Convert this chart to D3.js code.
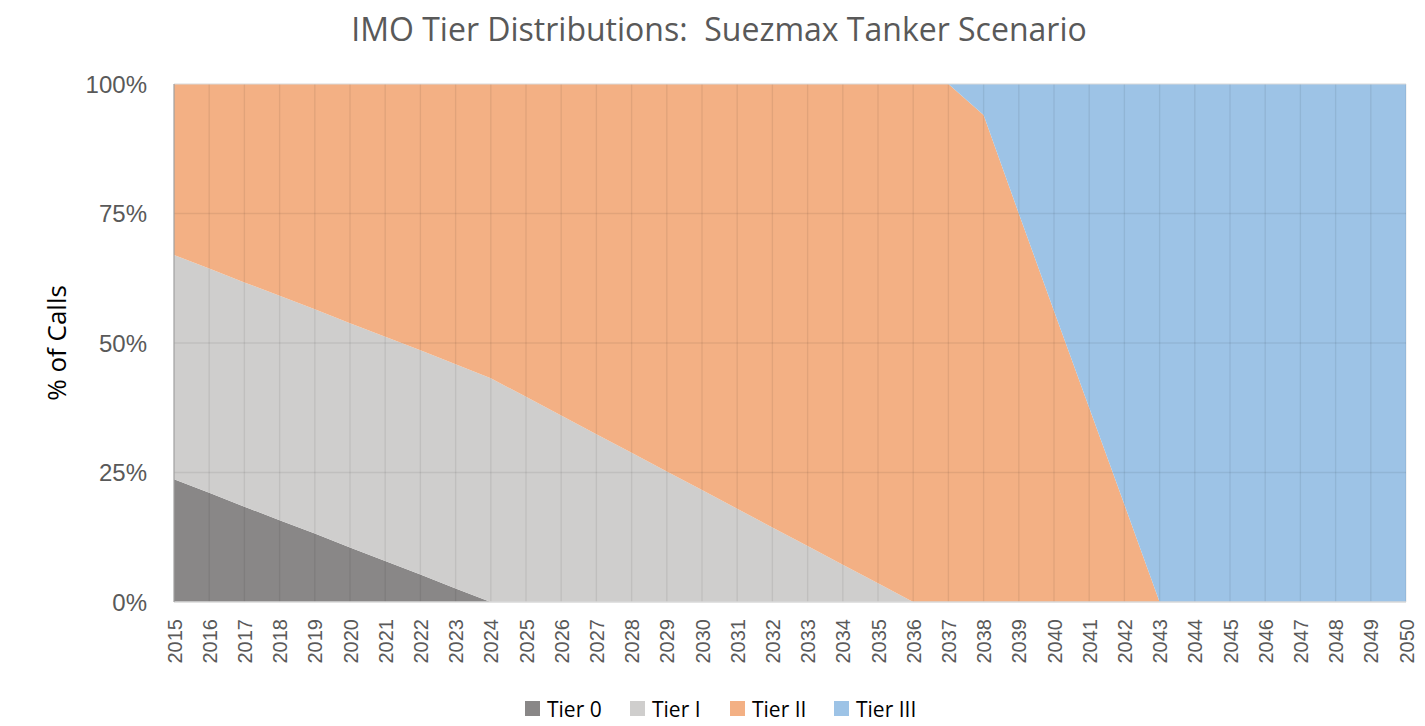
<!DOCTYPE html>
<html>
<head>
<meta charset="utf-8">
<script src="https://cdn.jsdelivr.net/npm/d3@7"></script>
<style>
  body { margin: 0; background: #fff; }
  svg { display: block; font-family: "Open Sans", "Noto Sans", sans-serif; }
</style>
</head>
<body>
<svg width="1425" height="726"></svg>
<script>
// years on the x axis
var years = d3.range(2015, 2051);

// percent of calls by tier, one value per year
var tier0 = [23.7, 21.1, 18.4, 15.8, 13.2, 10.5, 7.9, 5.3, 2.6, 0,
             0, 0, 0, 0, 0, 0, 0, 0, 0, 0, 0, 0, 0, 0, 0, 0, 0, 0, 0, 0, 0, 0, 0, 0, 0, 0];
var tier1 = [43.3, 43.3, 43.3, 43.3, 43.3, 43.3, 43.3, 43.3, 43.3, 43.2,
             39.6, 36.0, 32.4, 28.8, 25.2, 21.6, 18.0, 14.4, 10.8, 7.2, 3.6, 0,
             0, 0, 0, 0, 0, 0, 0, 0, 0, 0, 0, 0, 0, 0];
var tier2 = [33.0, 35.6, 38.3, 40.9, 43.5, 46.2, 48.8, 51.4, 54.1, 56.8,
             60.4, 64.0, 67.6, 71.2, 74.8, 78.4, 82.0, 85.6, 89.2, 92.8, 96.4, 100,
             100, 94.0, 75.0, 56.2, 37.5, 18.8, 0, 0, 0, 0, 0, 0, 0, 0];
var tier3 = [0, 0, 0, 0, 0, 0, 0, 0, 0, 0,
             0, 0, 0, 0, 0, 0, 0, 0, 0, 0, 0, 0,
             0, 6.0, 25.0, 43.8, 62.5, 81.2, 100, 100, 100, 100, 100, 100, 100, 100];

var seriesNames = ['Tier 0', 'Tier I', 'Tier II', 'Tier III'];
var colors = ['#898787', '#cfcecd', '#f3b084', '#9dc3e6'];
var yTicks = [0, 25, 50, 75, 100];

var table = years.map(function(y, i) {
    return {year: y, 'Tier 0': tier0[i], 'Tier I': tier1[i], 'Tier II': tier2[i], 'Tier III': tier3[i]};
});

var margin = {top: 84, left: 174, right: 19, bottom: 124},
    width = 1425 - margin.left - margin.right,
    height = 726 - margin.top - margin.bottom;

var svg = d3.select('svg');
var g = svg.append('g')
    .attr('transform', 'translate(' + margin.left + ',' + margin.top + ')');

var x = d3.scaleLinear().domain([2015, 2050]).range([0, width]);
var y = d3.scaleLinear().domain([0, 100]).range([height, 0]);

var stacked = d3.stack().keys(seriesNames)(table);

var area = d3.area()
    .x(function(d) { return x(d.data.year); })
    .y0(function(d) { return y(d[0]); })
    .y1(function(d) { return y(d[1]); });

g.selectAll('.layer')
    .data(stacked)
    .enter().append('path')
    .attr('class', 'layer')
    .attr('d', area)
    .style('fill', function(d, i) { return colors[i]; });

// gridlines sit over the areas, faint
g.selectAll('.vgrid')
    .data(years.slice(1))
    .enter().append('line')
    .attr('x1', function(d) { return x(d); })
    .attr('x2', function(d) { return x(d); })
    .attr('y1', 0).attr('y2', height)
    .style('stroke', '#000').style('stroke-opacity', 0.07).style('stroke-width', 1.4);

g.selectAll('.hgrid')
    .data(yTicks.slice(1, 4))
    .enter().append('line')
    .attr('x1', 0).attr('x2', width)
    .attr('y1', function(d) { return y(d); })
    .attr('y2', function(d) { return y(d); })
    .style('stroke', '#000').style('stroke-opacity', 0.07).style('stroke-width', 1.4);

g.append('line')
    .attr('x1', 0).attr('x2', width).attr('y1', 0).attr('y2', 0)
    .style('stroke', '#d9d9d9').style('stroke-width', 1.2);
g.append('line')
    .attr('x1', 0).attr('x2', width).attr('y1', height).attr('y2', height)
    .style('stroke', '#d9d9d9').style('stroke-width', 1.5);
g.append('line')
    .attr('x1', 0).attr('x2', 0).attr('y1', 0).attr('y2', height)
    .style('stroke', '#a0a0a0').style('stroke-width', 1.2);

// y axis
var yAxis = d3.axisLeft(y).tickValues(yTicks).tickSize(0).tickPadding(27)
    .tickFormat(function(d) { return d + '%'; });
var yg = g.append('g').call(yAxis);
yg.select('.domain').remove();
yg.selectAll('text')
    .style('font-size', '24px').style('fill', '#595959')
    .attr('dy', '0.35em');

// x axis, labels turned upright
var xAxis = d3.axisBottom(x).tickValues(years).tickSize(0).tickFormat(d3.format('d'));
var xg = g.append('g').attr('transform', 'translate(0,' + height + ')').call(xAxis);
xg.select('.domain').remove();
xg.selectAll('text')
    .style('font-size', '20px').style('fill', '#595959')
    .style('text-anchor', 'end')
    .attr('transform', 'rotate(-90)')
    .attr('x', -17).attr('y', 0).attr('dy', '0.35em');

svg.append('text')
    .attr('x', 719).attr('y', 41)
    .style('text-anchor', 'middle')
    .style('white-space', 'pre')
    .style('font-size', '32px').style('fill', '#595959')
    .text('IMO Tier Distributions:  Suezmax Tanker Scenario');

svg.append('text')
    .attr('transform', 'translate(66,' + (margin.top + height / 2) + ') rotate(-90)')
    .style('text-anchor', 'middle')
    .style('font-size', '26px').style('fill', '#000')
    .text('% of Calls');

// legend
var legendX = [525, 630, 730, 834];
var legend = svg.selectAll('.legend')
    .data(seriesNames)
    .enter().append('g')
    .attr('transform', function(d, i) { return 'translate(' + legendX[i] + ',701)'; });
legend.append('rect')
    .attr('width', 15).attr('height', 15)
    .style('fill', function(d, i) { return colors[i]; });
legend.append('text')
    .attr('x', 22).attr('y', 8).attr('dy', '0.36em')
    .style('font-size', '21px').style('fill', '#000')
    .text(function(d) { return d; });
</script>
</body>
</html>
